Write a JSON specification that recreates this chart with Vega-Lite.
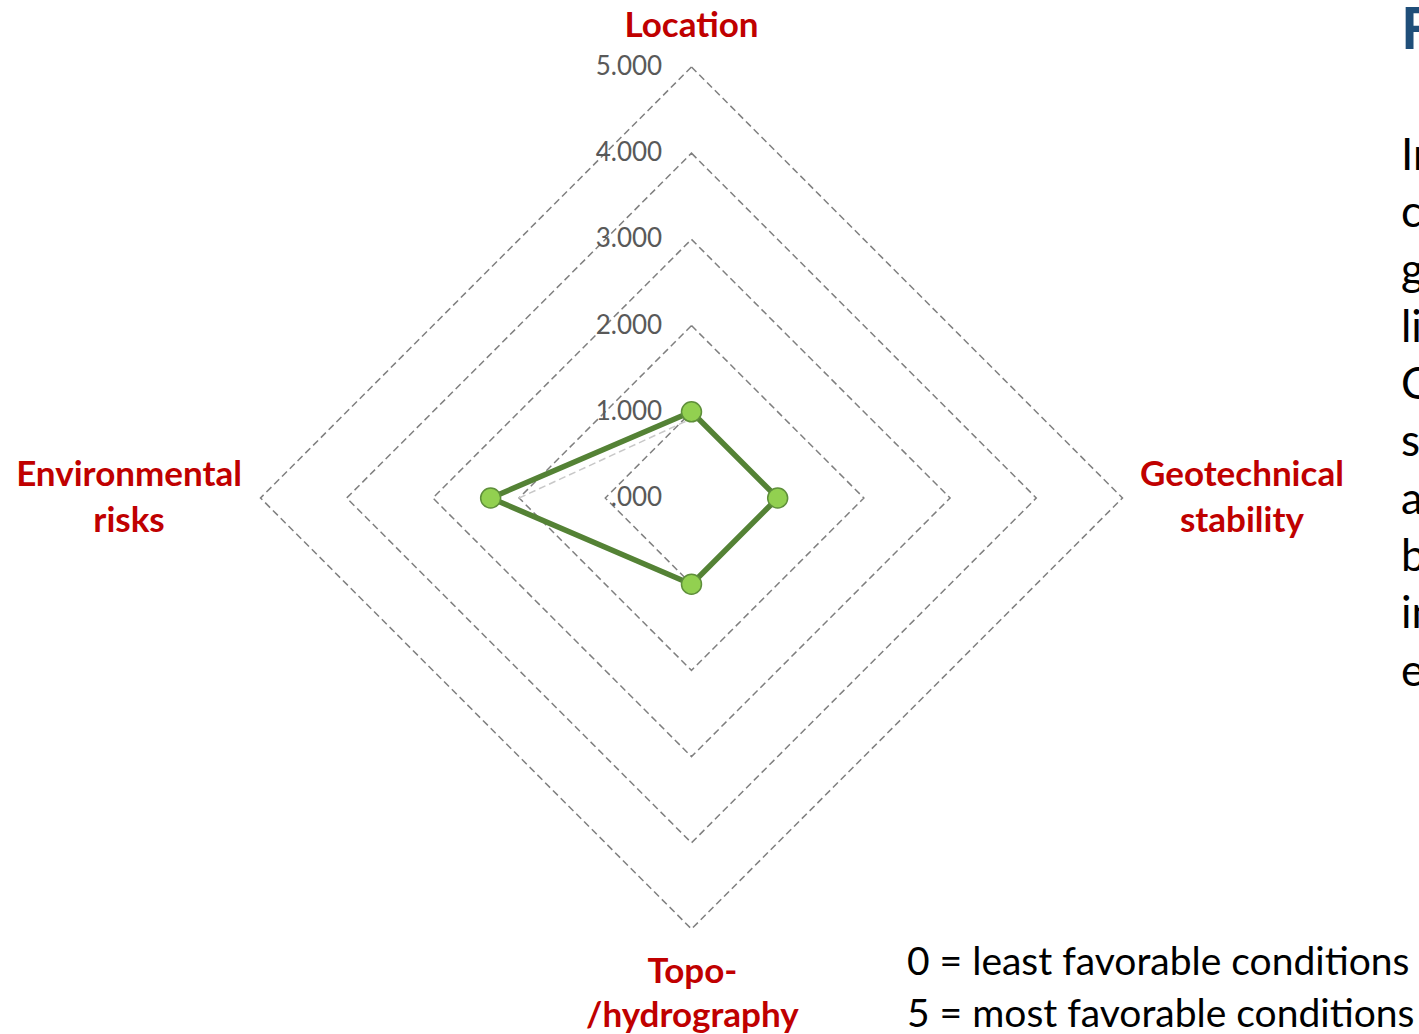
{
  "$schema": "https://vega.github.io/schema/vega-lite/v6.json",
  "width": 1419,
  "height": 1034,
  "padding": 0,
  "autosize": {"type": "none"},
  "background": "white",
  "config": {"view": {"stroke": null}, "font": "Lato"},
  "datasets": {
    "scores": [
      {"criterion": "Location", "score": 1},
      {"criterion": "Geotechnical stability", "score": 1},
      {"criterion": "Topo-/hydrography", "score": 1},
      {"criterion": "Environmental risks", "score": 2.33}
    ],
    "faint": [
      {"criterion": "Environmental risks", "score": 2},
      {"criterion": "Location", "score": 0.92}
    ],
    "grid": [
      {"level": 1, "criterion": "Location"}, {"level": 1, "criterion": "Geotechnical stability"}, {"level": 1, "criterion": "Topo-/hydrography"}, {"level": 1, "criterion": "Environmental risks"},
      {"level": 2, "criterion": "Location"}, {"level": 2, "criterion": "Geotechnical stability"}, {"level": 2, "criterion": "Topo-/hydrography"}, {"level": 2, "criterion": "Environmental risks"},
      {"level": 3, "criterion": "Location"}, {"level": 3, "criterion": "Geotechnical stability"}, {"level": 3, "criterion": "Topo-/hydrography"}, {"level": 3, "criterion": "Environmental risks"},
      {"level": 4, "criterion": "Location"}, {"level": 4, "criterion": "Geotechnical stability"}, {"level": 4, "criterion": "Topo-/hydrography"}, {"level": 4, "criterion": "Environmental risks"},
      {"level": 5, "criterion": "Location"}, {"level": 5, "criterion": "Geotechnical stability"}, {"level": 5, "criterion": "Topo-/hydrography"}, {"level": 5, "criterion": "Environmental risks"}
    ],
    "ticks": [
      {"level": 0, "label": ".000"},
      {"level": 1, "label": "1.000"},
      {"level": 2, "label": "2.000"},
      {"level": 3, "label": "3.000"},
      {"level": 4, "label": "4.000"},
      {"level": 5, "label": "5.000"}
    ]
  },
  "layer": [
    {
      "data": {"name": "grid"},
      "transform": [
        {"calculate": "datum.criterion === 'Geotechnical stability' ? datum.level : datum.criterion === 'Environmental risks' ? -datum.level : 0", "as": "px"},
        {"calculate": "datum.criterion === 'Location' ? datum.level : datum.criterion === 'Topo-/hydrography' ? -datum.level : 0", "as": "py"},
        {"calculate": "indexof(['Location','Geotechnical stability','Topo-/hydrography','Environmental risks'], datum.criterion)", "as": "ord"}
      ],
      "mark": {"type": "line", "interpolate": "linear-closed", "stroke": "#7f7f7f", "strokeWidth": 1.5, "strokeDash": [7, 4]},
      "encoding": {
        "x": {"field": "px", "type": "quantitative", "scale": {"domain": [-8.022, 8.44], "nice": false, "zero": false}, "axis": null},
        "y": {"field": "py", "type": "quantitative", "scale": {"domain": [-6.218, 5.777], "nice": false, "zero": false}, "axis": null},
        "detail": {"field": "level"},
        "order": {"field": "ord"}
      }
    },
    {
      "data": {"name": "faint"},
      "transform": [
        {"calculate": "datum.criterion === 'Geotechnical stability' ? datum.score : datum.criterion === 'Environmental risks' ? -datum.score : 0", "as": "px"},
        {"calculate": "datum.criterion === 'Location' ? datum.score : datum.criterion === 'Topo-/hydrography' ? -datum.score : 0", "as": "py"}
      ],
      "mark": {"type": "line", "stroke": "#c8c8c8", "strokeWidth": 1.5, "strokeDash": [7, 4]},
      "encoding": {
        "x": {"field": "px", "type": "quantitative", "scale": {"domain": [-8.022, 8.44], "nice": false, "zero": false}, "axis": null},
        "y": {"field": "py", "type": "quantitative", "scale": {"domain": [-6.218, 5.777], "nice": false, "zero": false}, "axis": null}
      }
    },
    {
      "data": {"name": "ticks"},
      "mark": {"type": "text", "align": "right", "baseline": "middle", "fontSize": 26, "color": "#595959"},
      "encoding": {
        "x": {"datum": -0.34, "type": "quantitative", "scale": {"domain": [-8.022, 8.44], "nice": false, "zero": false}, "axis": null},
        "y": {"field": "level", "type": "quantitative", "scale": {"domain": [-6.218, 5.777], "nice": false, "zero": false}, "axis": null},
        "text": {"field": "label"}
      }
    },
    {
      "data": {"name": "scores"},
      "transform": [
        {"calculate": "datum.criterion === 'Geotechnical stability' ? datum.score : datum.criterion === 'Environmental risks' ? -datum.score : 0", "as": "px"},
        {"calculate": "datum.criterion === 'Location' ? datum.score : datum.criterion === 'Topo-/hydrography' ? -datum.score : 0", "as": "py"},
        {"calculate": "indexof(['Location','Geotechnical stability','Topo-/hydrography','Environmental risks'], datum.criterion)", "as": "ord"}
      ],
      "layer": [
        {
          "mark": {"type": "line", "interpolate": "linear-closed", "stroke": "#548235", "strokeWidth": 5.5, "strokeJoin": "round"},
          "encoding": {
            "x": {"field": "px", "type": "quantitative", "scale": {"domain": [-8.022, 8.44], "nice": false, "zero": false}, "axis": null},
            "y": {"field": "py", "type": "quantitative", "scale": {"domain": [-6.218, 5.777], "nice": false, "zero": false}, "axis": null},
            "order": {"field": "ord"}
          }
        },
        {
          "mark": {"type": "circle", "fill": "#92D050", "stroke": "#5E8F3A", "strokeWidth": 1.5, "opacity": 1, "size": 400},
          "encoding": {
            "x": {"field": "px", "type": "quantitative", "scale": {"domain": [-8.022, 8.44], "nice": false, "zero": false}, "axis": null},
            "y": {"field": "py", "type": "quantitative", "scale": {"domain": [-6.218, 5.777], "nice": false, "zero": false}, "axis": null}
          }
        }
      ]
    },
    {
      "data": {"values": [{}]},
      "layer": [
        {
          "mark": {"type": "text", "text": "Location", "align": "center", "baseline": "middle", "fontSize": 35, "fontWeight": "bold", "color": "#C00000"},
          "encoding": {
            "x": {"datum": 0, "type": "quantitative", "scale": {"domain": [-8.022, 8.44], "nice": false, "zero": false}, "axis": null},
            "y": {"datum": 5.48, "type": "quantitative", "scale": {"domain": [-6.218, 5.777], "nice": false, "zero": false}, "axis": null}
          }
        },
        {
          "mark": {"type": "text", "text": ["Geotechnical", "stability"], "lineHeight": 46, "align": "center", "baseline": "middle", "fontSize": 35, "fontWeight": "bold", "color": "#C00000"},
          "encoding": {
            "x": {"datum": 6.386, "type": "quantitative", "scale": {"domain": [-8.022, 8.44], "nice": false, "zero": false}, "axis": null},
            "y": {"datum": 0.267, "type": "quantitative", "scale": {"domain": [-6.218, 5.777], "nice": false, "zero": false}, "axis": null}
          }
        },
        {
          "mark": {"type": "text", "text": ["Environmental", "risks"], "lineHeight": 46, "align": "center", "baseline": "middle", "fontSize": 35, "fontWeight": "bold", "color": "#C00000"},
          "encoding": {
            "x": {"datum": -6.525, "type": "quantitative", "scale": {"domain": [-8.022, 8.44], "nice": false, "zero": false}, "axis": null},
            "y": {"datum": 0.267, "type": "quantitative", "scale": {"domain": [-6.218, 5.777], "nice": false, "zero": false}, "axis": null}
          }
        },
        {
          "mark": {"type": "text", "text": ["Topo-", "/hydrography"], "lineHeight": 44, "align": "center", "baseline": "middle", "fontSize": 35, "fontWeight": "bold", "color": "#C00000"},
          "encoding": {
            "x": {"datum": 0.01, "type": "quantitative", "scale": {"domain": [-8.022, 8.44], "nice": false, "zero": false}, "axis": null},
            "y": {"datum": -5.499, "type": "quantitative", "scale": {"domain": [-6.218, 5.777], "nice": false, "zero": false}, "axis": null}
          }
        },
        {
          "mark": {"type": "text", "text": "F", "align": "left", "baseline": "alphabetic", "fontSize": 58, "fontWeight": "bold", "color": "#1F4E79"},
          "encoding": {
            "x": {"datum": 8.23, "type": "quantitative", "scale": {"domain": [-8.022, 8.44], "nice": false, "zero": false}, "axis": null},
            "y": {"datum": 5.209, "type": "quantitative", "scale": {"domain": [-6.218, 5.777], "nice": false, "zero": false}, "axis": null}
          }
        },
        {
          "mark": {"type": "text", "text": ["In", "c", "g", "li", "C", "s", "a", "b", "in", "e"], "lineHeight": 57.3, "align": "left", "baseline": "alphabetic", "fontSize": 44, "color": "#000000"},
          "encoding": {
            "x": {"datum": 8.23, "type": "quantitative", "scale": {"domain": [-8.022, 8.44], "nice": false, "zero": false}, "axis": null},
            "y": {"datum": 3.805, "type": "quantitative", "scale": {"domain": [-6.218, 5.777], "nice": false, "zero": false}, "axis": null}
          }
        },
        {
          "mark": {"type": "text", "text": ["0 = least favorable conditions", "5 = most favorable conditions"], "lineHeight": 52, "align": "left", "baseline": "alphabetic", "fontSize": 39, "color": "#000000"},
          "encoding": {
            "x": {"datum": 2.5, "type": "quantitative", "scale": {"domain": [-8.022, 8.44], "nice": false, "zero": false}, "axis": null},
            "y": {"datum": -5.534, "type": "quantitative", "scale": {"domain": [-6.218, 5.777], "nice": false, "zero": false}, "axis": null}
          }
        }
      ]
    }
  ]
}
